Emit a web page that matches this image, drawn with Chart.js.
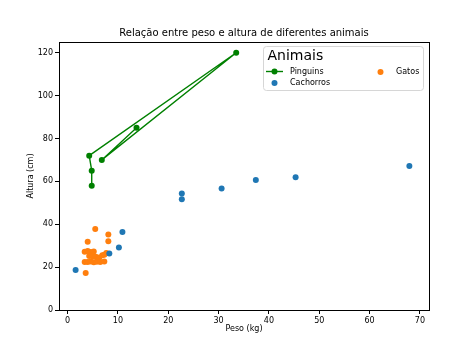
<!DOCTYPE html>
<html><head><meta charset="utf-8">
<script src="https://cdn.jsdelivr.net/npm/chart.js@4"></script>
<style>html,body{margin:0;padding:0;background:#fff}#w{width:474px;height:355px;position:relative}</style>
</head><body><div id="w"><canvas id="c" width="474" height="355"></canvas></div>
<script>
const chartTitle = "Relação entre peso e altura de diferentes animais";
const xLabel = "Peso (kg)";
const yLabel = "Altura (cm)";
const legendTitle = "Animais";
const seriesNames = ["Pinguins", "Cachorros", "Gatos"];

const pinguinsPeso   = [4.8, 4.8, 4.3, 33.5, 6.8, 13.7];
const pinguinsAltura = [58, 65, 72, 120, 70, 85];

const cachorrosPeso   = [1.6, 8.3, 10.2, 10.9, 22.7, 22.7, 30.6, 37.4, 45.3, 67.9];
const cachorrosAltura = [18.7, 26.4, 29.2, 36.4, 54.3, 51.7, 56.7, 60.6, 61.9, 67.2];

const gatosPeso   = [5.5, 8.1, 4.0, 8.1, 3.6, 3.4, 4.0, 4.6, 5.2, 7.7, 4.3, 5.0, 5.6, 6.3, 6.9, 7.3, 3.4, 4.0, 4.6, 5.2, 5.8, 6.5, 7.3];
const gatosAltura = [37.8, 35.2, 31.8, 32.1, 17.3, 27.2, 27.5, 27.0, 27.3, 26.6, 25.2, 25.0, 24.8, 24.5, 25.5, 25.8, 22.4, 22.4, 22.6, 22.3, 22.5, 22.4, 22.6];

const xTickStep = 10, yTickStep = 20;

const toPts = (xs, ys) => xs.map((x, i) => ({x: x, y: ys[i]}));

const colors = {pinguins: '#008000', cachorros: '#1f77b4', gatos: '#ff7f0e'};
const FONT = "'DejaVu Sans', sans-serif";

const decor = {
  id: 'decor',
  afterDraw(chart) {
    const ctx = chart.ctx, a = chart.chartArea;
    ctx.save();
    // frame
    ctx.strokeStyle = '#000'; ctx.lineWidth = 1;
    ctx.strokeRect(Math.round(a.left) + 0.5, Math.round(a.top) + 0.5, Math.round(a.right - a.left), Math.round(a.bottom - a.top));
    // title
    ctx.fillStyle = '#000';
    ctx.font = "10px " + FONT;
    ctx.textAlign = 'center'; ctx.textBaseline = 'middle';
    ctx.fillText(chartTitle, (a.left + a.right) / 2, 33.5);
    // axis titles
    ctx.font = "8px " + FONT;
    ctx.fillText(xLabel, (a.left + a.right) / 2, 329);
    ctx.save();
    ctx.translate(31, (a.top + a.bottom) / 2);
    ctx.rotate(-Math.PI / 2);
    ctx.fillText(yLabel, 0, 0);
    ctx.restore();
    // legend
    const lx = 263, ly = 46, lw = 160, lh = 44;
    ctx.globalAlpha = 0.8; ctx.fillStyle = '#fff';
    ctx.beginPath(); ctx.roundRect(lx + 0.5, ly + 0.5, lw, lh, 3); ctx.fill();
    ctx.globalAlpha = 1; ctx.strokeStyle = '#d6d6d6'; ctx.stroke();
    ctx.fillStyle = '#000';
    ctx.font = "14px " + FONT; ctx.textAlign = 'left'; ctx.textBaseline = 'middle';
    ctx.fillText(legendTitle, 267.5, 56);
    ctx.font = "8px " + FONT;
    // Pinguins
    ctx.strokeStyle = colors.pinguins; ctx.lineWidth = 1.4;
    ctx.beginPath(); ctx.moveTo(266, 71.5); ctx.lineTo(283, 71.5); ctx.stroke();
    ctx.fillStyle = colors.pinguins; ctx.beginPath(); ctx.arc(274.5, 71.5, 3, 0, Math.PI * 2); ctx.fill();
    ctx.fillStyle = '#000'; ctx.fillText(seriesNames[0], 290, 71.5);
    // Cachorros
    ctx.fillStyle = colors.cachorros; ctx.beginPath(); ctx.arc(274.5, 83, 3, 0, Math.PI * 2); ctx.fill();
    ctx.fillStyle = '#000'; ctx.fillText(seriesNames[1], 290, 83);
    // Gatos
    ctx.fillStyle = colors.gatos; ctx.beginPath(); ctx.arc(380.5, 72, 3, 0, Math.PI * 2); ctx.fill();
    ctx.fillStyle = '#000'; ctx.fillText(seriesNames[2], 396, 71.5);
    ctx.restore();
  }
};

new Chart(document.getElementById('c'), {
  type: 'scatter',
  data: {
    datasets: [
      {label: seriesNames[0], data: toPts(pinguinsPeso, pinguinsAltura), showLine: true,
       borderColor: colors.pinguins, backgroundColor: colors.pinguins, borderWidth: 1.4,
       pointRadius: 3, pointBorderWidth: 0, order: 0, tension: 0},
      {label: seriesNames[1], data: toPts(cachorrosPeso, cachorrosAltura),
       backgroundColor: colors.cachorros, borderColor: colors.cachorros, pointRadius: 3, pointBorderWidth: 0, order: 1},
      {label: seriesNames[2], data: toPts(gatosPeso, gatosAltura),
       backgroundColor: colors.gatos, borderColor: colors.gatos, pointRadius: 3, pointBorderWidth: 0, order: 2}
    ]
  },
  options: {
    responsive: false, animation: false, devicePixelRatio: 1,
    layout: {padding: {top: 42, right: 45, left: 0, bottom: 0}},
    plugins: {legend: {display: false}, title: {display: false}, tooltip: {enabled: false}},
    scales: {
      x: {
        type: 'linear', min: -1.7, max: 71.8,
        border: {display: false},
        grid: {drawOnChartArea: false, drawTicks: true, tickLength: 4, color: '#000'},
        ticks: {stepSize: xTickStep, includeBounds: false, color: '#000', font: {family: FONT, size: 8}, padding: 2, maxRotation: 0},
        afterFit: s => { s.height = 45; }
      },
      y: {
        type: 'linear', min: 0, max: 125,
        border: {display: false},
        grid: {drawOnChartArea: false, drawTicks: true, tickLength: 4, color: '#000'},
        ticks: {stepSize: yTickStep, includeBounds: false, color: '#000', font: {family: FONT, size: 8}, padding: 2},
        afterFit: s => { s.width = 59; }
      }
    }
  },
  plugins: [decor]
});
</script>
</body></html>
